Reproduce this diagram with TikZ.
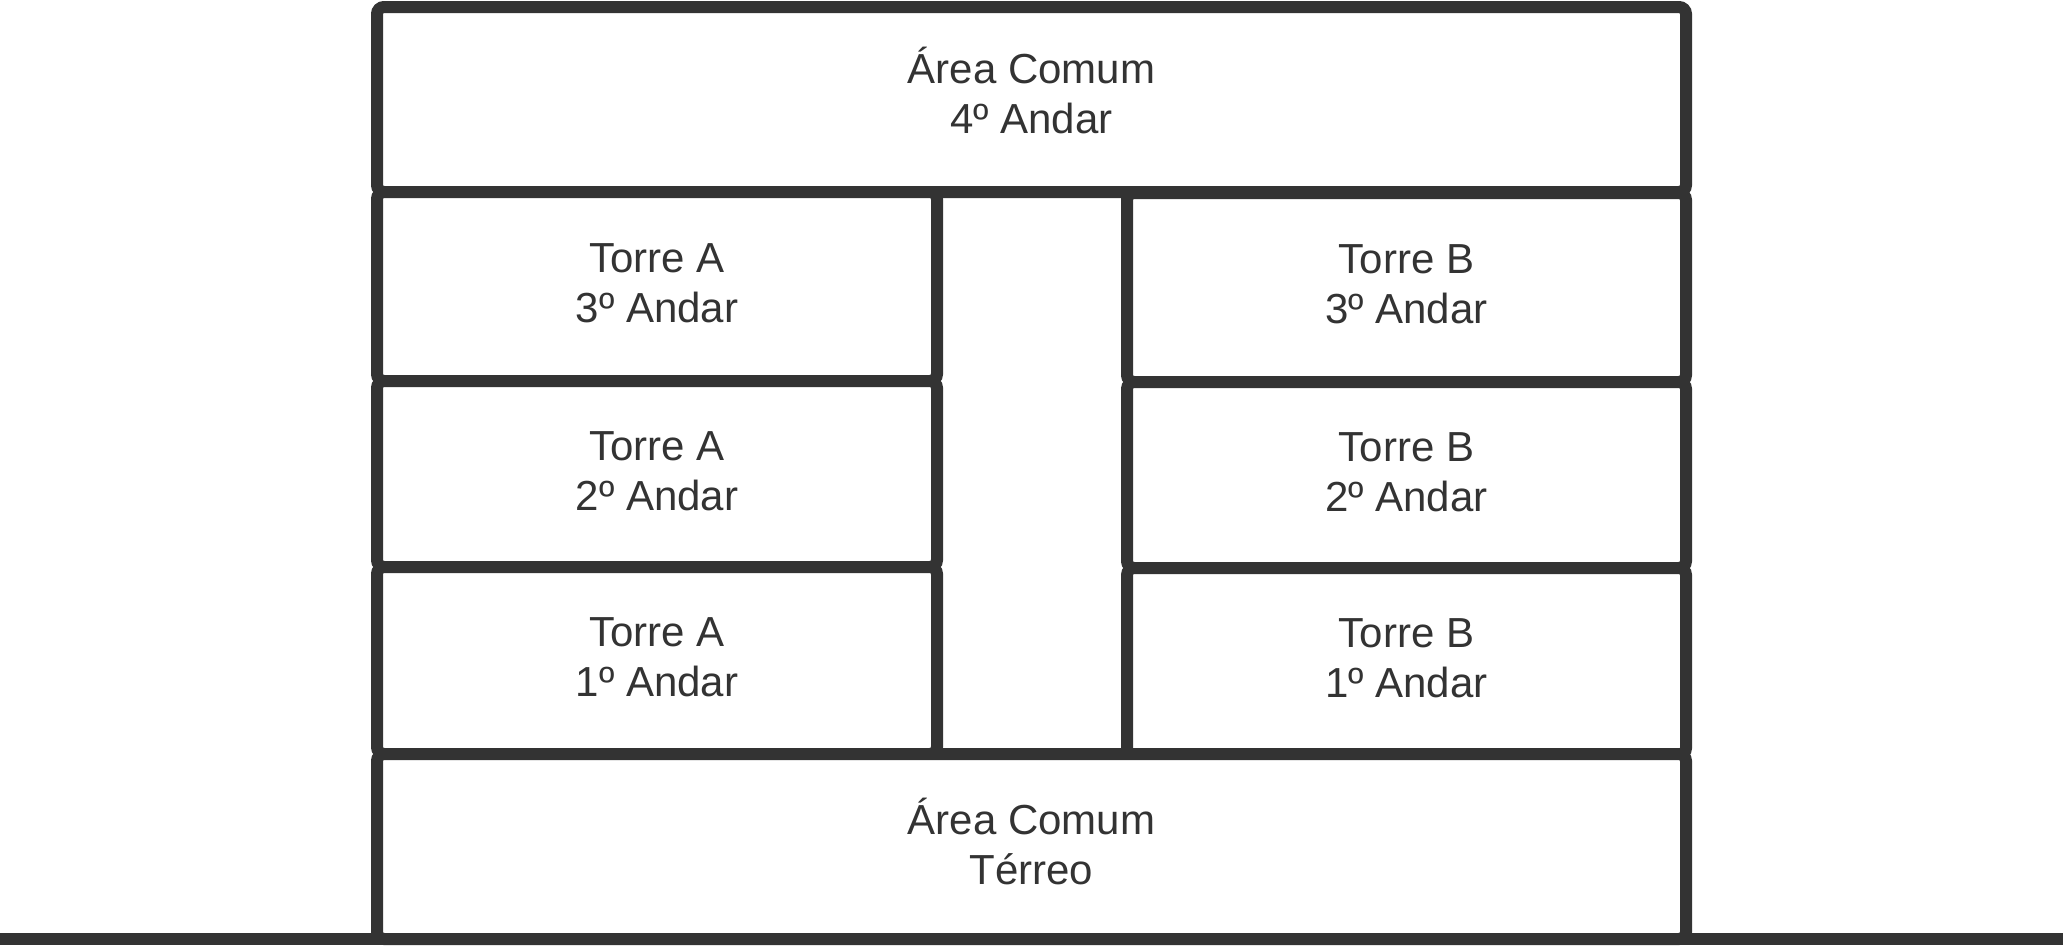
\documentclass[tikz,border=0pt]{standalone}
\usepackage{fontspec}
\setmainfont{Liberation Sans}
\definecolor{ink}{HTML}{333333}
\tikzset{
  floorbox/.style={draw=ink, line width=12pt, rounded corners=7pt, fill=white,
    inner sep=0pt},
  floortext/.style={text=ink, align=center, inner sep=0pt,
    font=\fontsize{42pt}{50pt}\selectfont},
  groundline/.style={draw=ink, line width=12pt}
}
\begin{document}
\begin{tikzpicture}[x=1pt,y=-1pt]
\useasboundingbox (0,0) rectangle (2063,945);
% ground
\coordinate (gl) at (0,939);
\coordinate (gr) at (2063,939);
% boxes
\node[floorbox, minimum width=1309pt, minimum height=185pt,
  label={[floortext, yshift=9pt]center:{Área Comum\\4º Andar}}] (top) at (1031.5,99.5) {};
\node[floorbox, minimum width=560pt, minimum height=189pt,
  label={[floortext, yshift=3pt]center:{Torre A\\3º Andar}}] (a3) at (657,286.5) {};
\node[floorbox, minimum width=559pt, minimum height=189pt,
  label={[floortext, yshift=3pt]center:{Torre B\\3º Andar}}] (b3) at (1406.5,287.5) {};
\node[floorbox, minimum width=560pt, minimum height=186pt,
  label={[floortext, yshift=3pt]center:{Torre A\\2º Andar}}] (a2) at (657,474) {};
\node[floorbox, minimum width=559pt, minimum height=186pt,
  label={[floortext, yshift=3pt]center:{Torre B\\2º Andar}}] (b2) at (1406.5,475) {};
\node[floorbox, minimum width=560pt, minimum height=187pt,
  label={[floortext, yshift=3pt]center:{Torre A\\1º Andar}}] (a1) at (657,660.5) {};
\node[floorbox, minimum width=559pt, minimum height=187pt,
  label={[floortext, yshift=3pt]center:{Torre B\\1º Andar}}] (b1) at (1406.5,661.5) {};
\node[floorbox, minimum width=1309pt, minimum height=185pt,
  label={[floortext, yshift=5pt]center:{Área Comum\\Térreo}}] (ground) at (1031.5,846.5) {};
\draw[groundline] (gl) -- (gr);
\end{tikzpicture}
\end{document}
